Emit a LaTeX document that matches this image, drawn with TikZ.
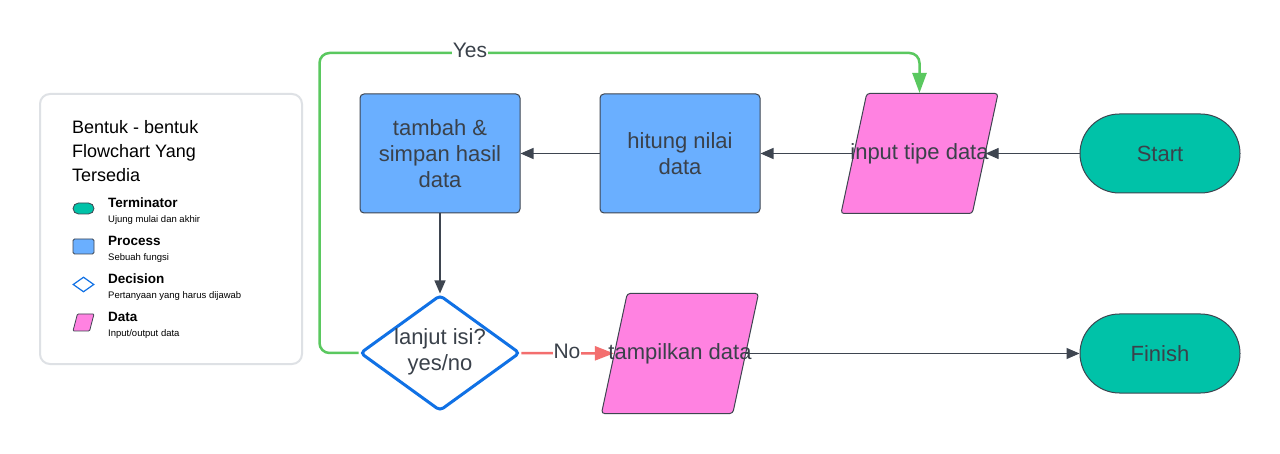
\documentclass[tikz,border=0pt]{standalone}
\usepackage{fontspec}
\setmainfont{Liberation Sans}
\usetikzlibrary{arrows.meta,shapes.geometric,calc}
\definecolor{txt}{HTML}{3A414A}
\definecolor{bord}{HTML}{3E4550}
\definecolor{procblue}{HTML}{6AAFFF}
\definecolor{datapink}{HTML}{FF82E1}
\definecolor{termteal}{HTML}{00C2A8}
\definecolor{decblue}{HTML}{1071E5}
\definecolor{yesgreen}{HTML}{5AC85F}
\definecolor{nored}{HTML}{F36E6E}
\definecolor{legbord}{HTML}{DEE1E5}
\begin{document}
\begin{tikzpicture}[x=1pt,y=-1pt,
  bigtxt/.style={text=txt,font=\fontsize{22}{26}\selectfont,align=center,inner sep=0pt},
  proc/.style={draw=bord,line width=1pt,fill=procblue,rounded corners=4pt,minimum width=160pt,minimum height=119pt,inner sep=0pt},
  term/.style={draw=bord,line width=1pt,fill=termteal,rounded corners=39.5pt,minimum width=160pt,minimum height=79pt,inner sep=0pt},
  datashape/.style={trapezium,trapezium left angle=76.3,trapezium right angle=103.7,trapezium stretches=true,draw=bord,line width=1pt,fill=datapink,minimum width=157pt,minimum height=120pt,inner sep=1pt,rounded corners=3pt},
  decshape/.style={diamond,draw=decblue,line width=3pt,fill=white,minimum width=160pt,minimum height=116pt,inner sep=1pt,rounded corners=4pt},
  flow/.style={draw=bord,line width=1.2pt,-{Triangle[length=13pt,width=11pt]}},
  yesline/.style={draw=yesgreen,line width=2.5pt,rounded corners=10pt,-{Triangle[length=20pt,width=14pt]}},
  noline/.style={draw=nored,line width=2.5pt,-{Triangle[length=19pt,width=14pt]}},
  lbl/.style={text=txt,font=\fontsize{21}{24}\selectfont,fill=white,inner sep=1pt},
  legtitle/.style={text=black,font=\fontsize{18}{24}\selectfont,align=left,inner sep=0pt},
  leghead/.style={text=black,font=\fontsize{13.5}{15}\selectfont\bfseries,inner sep=0pt,anchor=base west},
  legsub/.style={text=black,font=\fontsize{9.5}{11}\selectfont,inner sep=0pt,anchor=base west}
]
\useasboundingbox[fill=white] (0,0) rectangle (1280,454);

% legend
\node[draw=legbord,line width=2pt,rounded corners=10pt,minimum width=262pt,minimum height=270pt,inner sep=0pt] (legend) at (171,229) {};
\node[legtitle,anchor=north west] (legT) at (72,120) {Bentuk - bentuk\\Flowchart Yang\\Tersedia};
\node[draw=bord,line width=0.8pt,fill=termteal,rounded corners=5.5pt,minimum width=21pt,minimum height=11pt,inner sep=0pt] (lgTerm) at (83.5,208.5) {};
\node[leghead] (lgTermH) at (108,208) {Terminator};
\node[legsub] (lgTermS) at (108,223) {Ujung mulai dan akhir};
\node[draw=bord,line width=0.8pt,fill=procblue,rounded corners=1.5pt,minimum width=21pt,minimum height=15pt,inner sep=0pt] (lgProc) at (83.5,246.5) {};
\node[leghead] (lgProcH) at (108,246) {Process};
\node[legsub] (lgProcS) at (108,261) {Sebuah fungsi};
\node[diamond,draw=decblue,line width=1.2pt,fill=white,minimum width=21pt,minimum height=15pt,inner sep=0.5pt] (lgDec) at (83.5,284.5) {};
\node[leghead] (lgDecH) at (108,284) {Decision};
\node[legsub] (lgDecS) at (108,299) {Pertanyaan yang harus dijawab};
\node[trapezium,trapezium left angle=70,trapezium right angle=110,trapezium stretches=true,draw=bord,line width=0.8pt,fill=datapink,minimum width=21pt,minimum height=17pt,inner sep=0.5pt,rounded corners=1pt] (lgData) at (83.5,322.5) {};
\node[leghead] (lgDataH) at (108,322) {Data};
\node[legsub] (lgDataS) at (108,337) {Input/output data};

% main shapes
\node[proc] (tam) at (440,153.5) {};
\node[proc] (hit) at (680,153.5) {};
\node[datashape] (inpS) at (919.5,153.5) {};
\node[term] (start) at (1160,153.5) {};
\node[decshape] (dec) at (440,353) {};
\node[datashape] (outS) at (680,353.5) {};
\node[term] (fin) at (1160,353.5) {};

% connectors
\draw[flow] (start) -- (inpS);
\draw[flow] (inpS) -- (hit);
\draw[flow] (hit) -- (tam);
\draw[flow] (tam) -- (dec);
\draw[noline] (dec) -- (outS);
\draw[flow] (outS) -- (fin);
\draw[yesline] (dec.west) -- ++(-39,0) |- ([yshift=40pt]inpS.north) -- (inpS.north);

% texts
\node[bigtxt] (tamT) at (tam.center) {tambah \&\\simpan hasil\\data};
\node[bigtxt] (hitT) at (hit.center) {hitung nilai\\data};
\node[bigtxt] (inpT) at (inpS.center) {input tipe data};
\node[bigtxt] (startT) at (start.center) {Start};
\node[bigtxt] (decT) at (440,352) {lanjut isi?\\yes/no};
\node[bigtxt] (outT) at (outS.center) {tampilkan data};
\node[bigtxt] (finT) at (fin.center) {Finish};
\node[lbl] (yes) at (470,50) {Yes};
\node[lbl] (no) at (567,351) {No};
\end{tikzpicture}
\end{document}
